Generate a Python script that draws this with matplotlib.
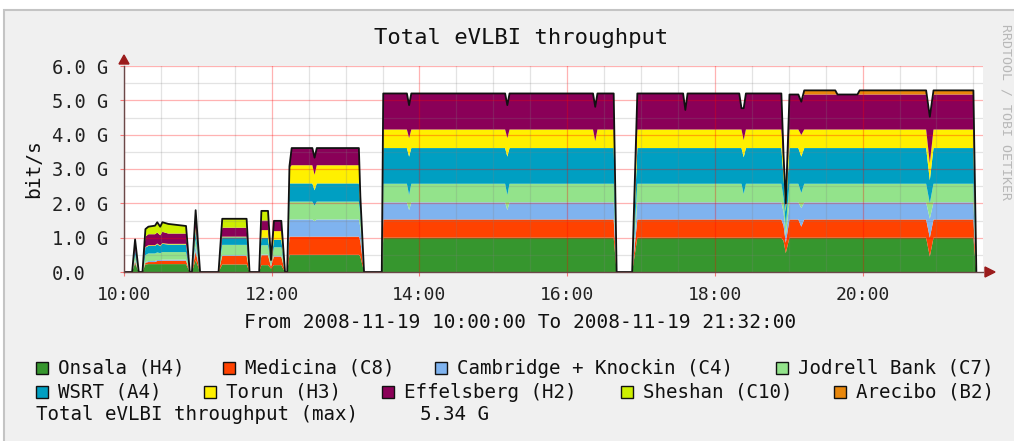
import matplotlib
matplotlib.use('Agg')
import matplotlib.pyplot as plt
from matplotlib.patches import Rectangle, Polygon

plt.rcParams['font.family'] = ['DejaVu Sans Mono']

# ---- data (hours after 2008-11-19 10:00, values in Gbit/s) ----
hours = [0.00, 0.11, 0.15, 0.20, 0.25, 0.29, 0.33, 0.42, 0.45, 0.49,
         0.52, 0.60, 0.84, 0.89, 0.92, 0.97, 1.03, 1.28, 1.33, 1.66,
         1.70, 1.83, 1.86, 1.95, 1.99, 2.03, 2.13, 2.18, 2.21, 2.24,
         2.27, 2.55, 2.58, 2.61, 3.18, 3.20, 3.25, 3.49, 3.51, 3.83,
         3.86, 3.89, 5.16, 5.19, 5.22, 6.35, 6.38, 6.41, 6.63, 6.67,
         6.88, 6.95, 7.57, 7.60, 7.63, 8.33, 8.36, 8.39, 8.42, 8.90,
         8.93, 8.96, 9.01, 9.13, 9.17, 9.21, 9.63, 9.66, 9.93, 9.96,
         10.86, 10.91, 10.96, 11.50, 11.54]

onsala = [0, 0, .25, 0, 0, .22, .23, .23, .23, .23,
          .23, .23, .23, 0, 0, .35, 0, 0, .22, .22,
          0, 0, .20, .20, .10, .20, .20, 0, 0, .50,
          .50, .50, .50, .50, .50, .45, 0, 0, 1.0, 1.0,
          1.0, 1.0, 1.0, 1.0, 1.0, 1.0, 1.0, 1.0, 1.0, 0,
          0, 1.0, 1.0, 1.0, 1.0, 1.0, 1.0, 1.0, 1.0, 1.0,
          .90, .55, 1.0, 1.0, 1.0, 1.0, 1.0, 1.0, 1.0, 1.0,
          1.0, .45, 1.0, 1.0, 0]

medicina = [0, 0, .05, 0, 0, .05, .06, .06, .09, .09,
            .10, .10, .10, 0, 0, .25, 0, 0, .25, .25,
            0, 0, .29, .29, .05, .25, .25, 0, 0, .53,
            .53, .53, .53, .53, .53, .45, 0, 0, .53, .53,
            .53, .53, .53, .53, .53, .53, .53, .53, .53, 0,
            0, .53, .53, .53, .53, .53, .53, .53, .53, .53,
            .45, .30, .53, .53, .32, .53, .53, .53, .53, .53,
            .53, .55, .53, .53, 0]

cambridge = [0, 0, .05, 0, 0, .02, .03, .03, .03, .03,
             .03, .03, .03, 0, 0, .15, 0, 0, .02, .02,
             0, 0, .02, .02, .02, .02, .02, 0, 0, .50,
             .50, .50, .45, .50, .50, .40, 0, 0, .50, .50,
             .27, .50, .50, .27, .50, .50, .50, .50, .50, 0,
             0, .50, .50, .50, .50, .50, .50, .50, .50, .50,
             .40, .20, .50, .50, .54, .50, .50, .50, .50, .50,
             .50, .55, .50, .50, 0]

jodrell = [0, 0, .15, 0, 0, .20, .22, .22, .22, .20,
           .22, .22, .22, 0, 0, .20, 0, 0, .30, .30,
           0, 0, .27, .27, .05, .25, .25, 0, 0, .52,
           .52, .52, .45, .52, .52, .35, 0, 0, .54, .54,
           .44, .54, .54, .44, .54, .54, .54, .54, .54, 0,
           0, .54, .54, .54, .54, .54, .54, .24, .54, .54,
           .40, .30, .54, .54, .44, .54, .54, .54, .54, .54,
           .54, .45, .54, .54, 0]

wsrt = [0, 0, .15, 0, 0, .22, .22, .22, .24, .20,
        .24, .22, .22, 0, 0, .25, 0, 0, .22, .22,
        0, 0, .22, .22, .05, .22, .22, 0, 0, .53,
        .53, .53, .45, .53, .53, .25, 0, 0, 1.04, 1.04,
        1.12, 1.04, 1.04, 1.12, 1.04, 1.04, 1.04, 1.04, 1.04, 0,
        0, 1.04, 1.04, 1.04, 1.04, 1.04, 1.04, 1.07, 1.04, 1.04,
        .60, .40, 1.04, 1.04, 1.06, 1.04, 1.04, 1.04, 1.04, 1.04,
        1.04, .67, 1.04, 1.04, 0]

torun = [0, 0, 0, 0, 0, .02, .02, .02, .02, .02,
         .02, .02, .02, 0, 0, .10, 0, 0, .02, .02,
         0, 0, .22, .22, .03, .25, .25, 0, 0, .45,
         .53, .53, .45, .53, .53, .10, 0, 0, .54, .54,
         .54, .54, .54, .54, .54, .54, .20, .54, .54, 0,
         0, .54, .54, .54, .54, .54, .54, .50, .54, .54,
         .30, .10, .54, .54, .63, .54, .54, .54, .54, .54,
         .54, .50, .54, .54, 0]

effelsberg = [0, 0, .20, 0, 0, .30, .32, .32, .32, .30,
              .33, .30, .30, 0, 0, .30, 0, 0, .26, .26,
              0, 0, .28, .28, .05, .30, .30, 0, 0, .05,
              .50, .50, .50, .50, .50, .20, 0, 0, 1.05, 1.05,
              .96, 1.05, 1.05, .96, 1.05, 1.05, 1.00, 1.05, 1.05, 0,
              0, 1.05, 1.05, .57, 1.05, 1.05, .62, .93, 1.05, 1.05,
              .35, .15, 1.02, 1.02, .97, 1.02, 1.02, 1.02, 1.02, 1.02,
              1.02, 1.35, 1.02, 1.02, 0]

sheshan = [0, 0, .10, 0, 0, .22, .22, .25, .30, .25,
           .28, .28, .22, 0, 0, .20, 0, 0, .26, .26,
           0, 0, .28, .28, 0, 0, 0, 0, 0, 0,
           0, 0, 0, 0, 0, 0, 0, 0, 0, 0,
           0, 0, 0, 0, 0, 0, 0, 0, 0, 0,
           0, 0, 0, 0, 0, 0, 0, 0, 0, 0,
           0, 0, 0, 0, 0, 0, 0, 0, 0, 0,
           0, 0, 0, 0, 0]

arecibo = [0, 0, 0, 0, 0, 0, 0, 0, 0, 0,
           0, 0, 0, 0, 0, 0, 0, 0, 0, 0,
           0, 0, 0, 0, 0, 0, 0, 0, 0, 0,
           0, 0, 0, 0, 0, 0, 0, 0, 0, 0,
           0, 0, 0, 0, 0, 0, 0, 0, 0, 0,
           0, 0, 0, 0, 0, 0, 0, 0, 0, 0,
           0, 0, 0, 0, 0, .12, .12, 0, 0, .12,
           .12, 0, .12, .12, 0]

labels = ["Onsala (H4)", "Medicina (C8)", "Cambridge + Knockin (C4)", "Jodrell Bank (C7)",
          "WSRT (A4)", "Torun (H3)", "Effelsberg (H2)", "Sheshan (C10)", "Arecibo (B2)"]
colors = ["#36962e", "#ff4200", "#7fb3ef", "#93e38b", "#009fc2",
          "#fff000", "#8a0058", "#cdef00", "#e8870c"]
series = [onsala, medicina, cambridge, jodrell, wsrt, torun, effelsberg, sheshan, arecibo]

xtick_hours = [0, 2, 4, 6, 8, 10]
xtick_labels = ["10:00", "12:00", "14:00", "16:00", "18:00", "20:00"]
ytick_vals = [0, 1, 2, 3, 4, 5, 6]
ytick_labels = ["0.0", "1.0 G", "2.0 G", "3.0 G", "4.0 G", "5.0 G", "6.0 G"]
max_text = "5.34 G"

# ---- figure ----
W, H = 1014, 441
fig = plt.figure(figsize=(W / 100, H / 100), dpi=100, facecolor='white')


def fx(x):
    return x / W


def fy(y):
    return 1 - y / H


fig.patches.append(Rectangle((fx(4), -0.01), 1.02 - fx(4), fy(10) + 0.01,
                             transform=fig.transFigure, facecolor='#f0f0f0',
                             edgecolor='#c4c4c4', lw=1.5, zorder=-10))

ax = fig.add_axes([fx(124), fy(272), fx(983) - fx(124), fy(66) - fy(272)])
ax.set_facecolor('white')
ax.set_xlim(0, 11.63)
ax.set_ylim(0, 6.0)

ax.stackplot(hours, *series, colors=colors, linewidth=0, zorder=2)
total = [sum(v) for v in zip(*series)]
ax.plot(hours, total, color='#111111', lw=1.3, zorder=4)

# grid (drawn over the areas, as RRDtool does)
for i in range(24):
    xv = i * 0.5
    if xv > 11.63:
        break
    if xv % 2 == 0:
        ax.axvline(xv, color=(1, 0, 0, 0.3), lw=0.9, zorder=3)
    else:
        ax.axvline(xv, color=(0.5, 0.5, 0.5, 0.22), lw=0.9, zorder=3)
for i in range(1, 13):
    yv = i * 0.5
    if yv % 1 == 0:
        ax.axhline(yv, color=(1, 0, 0, 0.3), lw=0.9, zorder=3)
    else:
        ax.axhline(yv, color=(0.5, 0.5, 0.5, 0.22), lw=0.9, zorder=3)

for s in ['top', 'right']:
    ax.spines[s].set_visible(False)
for s in ['left', 'bottom']:
    ax.spines[s].set_color('#6b4848')
    ax.spines[s].set_linewidth(1.0)
    ax.spines[s].set_zorder(5)

ax.set_xticks(xtick_hours, xtick_labels)
ax.set_yticks(ytick_vals, ytick_labels)
ax.tick_params(axis='x', length=3, color=(1, 0, 0, 0.5), pad=7, labelsize=13, labelcolor='#222222')
ax.tick_params(axis='y', length=3, color=(1, 0, 0, 0.5), pad=49, labelsize=13.5, labelcolor='#222222')
for lab in ax.get_yticklabels():
    lab.set_ha('left')

# axis arrows
fig.patches.append(Polygon([(fx(119), fy(64)), (fx(129), fy(64)), (fx(124), fy(55))],
                           closed=True, transform=fig.transFigure, color='#9b1c1c', zorder=10))
fig.patches.append(Polygon([(fx(985), fy(267)), (fx(985), fy(277)), (fx(995), fy(272))],
                           closed=True, transform=fig.transFigure, color='#9b1c1c', zorder=10))

# texts
fig.text(fx(521), fy(38), "Total eVLBI throughput", ha='center', va='center', fontsize=16, color='#111111')
fig.text(fx(34), fy(169), "bit/s", rotation=90, ha='center', va='center', fontsize=14, color='#111111')
fig.text(fx(520), fy(322), "From 2008-11-19 10:00:00 To 2008-11-19 21:32:00",
         ha='center', va='center', fontsize=14, color='#111111')
fig.text(fx(1006), fy(112), "RRDTOOL / TOBI OETIKER", rotation=270, ha='center', va='center',
         fontsize=9.5, color='#b8b8b8')

# legend
leg_pos = [(36, 368), (223, 368), (435, 368), (776, 368),
           (36, 392), (204, 392), (382, 392), (621, 392), (834, 392)]
for (x, y), lab, col in zip(leg_pos, labels, colors):
    fig.patches.append(Rectangle((fx(x), fy(y + 6)), 12 / W, 12 / H, transform=fig.transFigure,
                                 facecolor=col, edgecolor='#111111', lw=1.0, zorder=10))
    fig.text(fx(x + 22), fy(y), lab, ha='left', va='center', fontsize=13.8, color='#111111')
fig.text(fx(36), fy(415), "Total eVLBI throughput (max)", ha='left', va='center', fontsize=13.8, color='#111111')
fig.text(fx(420), fy(415), max_text, ha='left', va='center', fontsize=13.8, color='#111111')

fig.savefig('out.png', dpi=100, facecolor=fig.get_facecolor())
